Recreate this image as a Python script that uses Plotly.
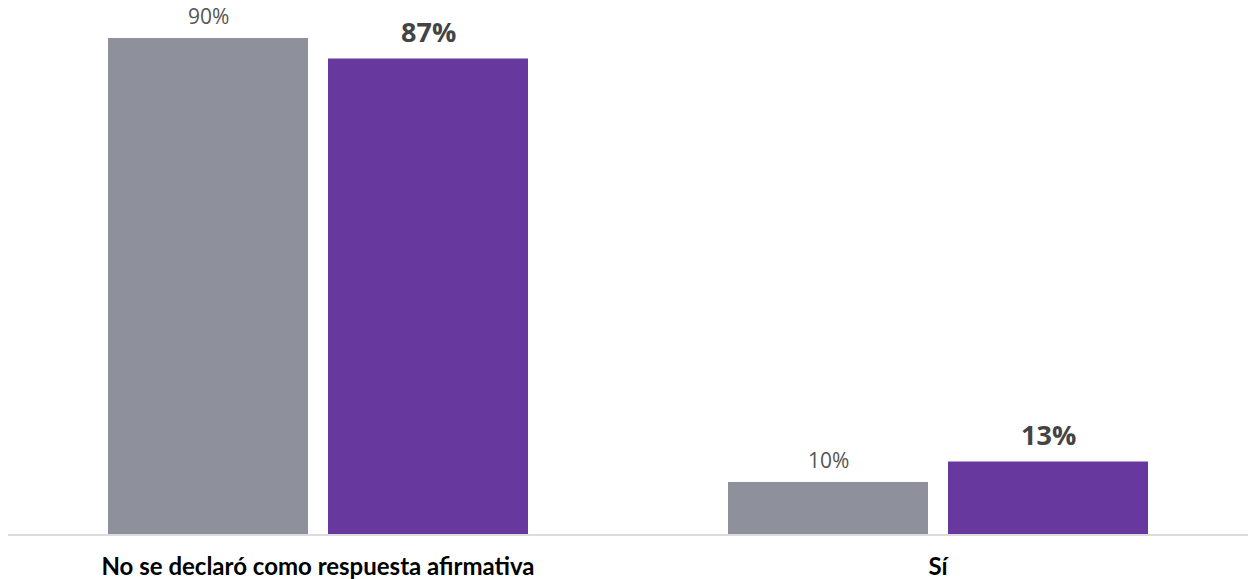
import plotly.graph_objects as go

categories = ["No se declaró como respuesta afirmativa", "Sí"]
gray_values = [90.5, 9.5]
purple_values = [86.75, 13.25]
gray_labels = ["90%", "10%"]
purple_labels = ["87%", "13%"]

GRAY = "#8E919C"
PURPLE = "#67389E"

cat_px = 620.0
bar_w = 200 / cat_px
x_pos = list(range(len(categories)))

fig = go.Figure()
fig.add_trace(go.Bar(x=x_pos, y=gray_values, width=bar_w, offset=-210 / cat_px,
                     marker=dict(color=GRAY, line=dict(width=0)), hoverinfo="skip"))
fig.add_trace(go.Bar(x=x_pos, y=purple_values, width=bar_w, offset=10 / cat_px,
                     marker=dict(color=PURPLE, line=dict(width=0)), hoverinfo="skip"))

annotations = []
for i in x_pos:
    annotations.append(dict(x=i - 110 / cat_px, y=gray_values[i], text=gray_labels[i],
                            showarrow=False, yanchor="middle", yshift=22,
                            font=dict(family="Open Sans", size=21, color="#555555")))
    annotations.append(dict(x=i + 110 / cat_px, y=purple_values[i], text=purple_labels[i],
                            showarrow=False, yanchor="middle", yshift=27,
                            font=dict(family="Open Sans", size=27, color="#444444", weight="bold")))

fig.update_layout(
    width=1253, height=579,
    margin=dict(l=8, r=5, t=0, b=45),
    paper_bgcolor="white", plot_bgcolor="white",
    showlegend=False, barmode="group",
    annotations=annotations,
    xaxis=dict(type="linear", range=[-0.5, 1.5], tickvals=x_pos, ticktext=categories,
               showgrid=False, zeroline=False, showline=True, linecolor="#DCDCDC", linewidth=2,
               ticks="", ticklabelstandoff=10,
               tickfont=dict(family="Lato", size=24, color="#000000", weight="bold"),
               fixedrange=True),
    yaxis=dict(range=[0, 534 / 5.48], visible=False, fixedrange=True),
)

fig.write_html("out.html", config={"displayModeBar": False},
               post_script="document.body.style.margin='0';document.body.style.overflow='hidden';")
